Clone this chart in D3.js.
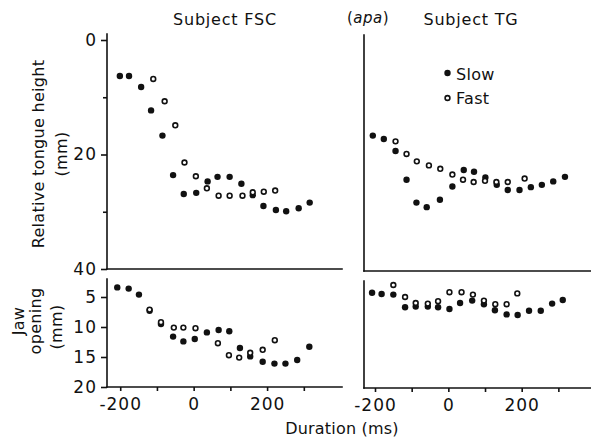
<!DOCTYPE html>
<html>
<head>
<meta charset="utf-8">
<script src="https://cdn.jsdelivr.net/npm/d3@7"></script>
<style>
  html, body { margin: 0; padding: 0; background: #fff; }
  svg { display: block; }
  text { font-family: "DejaVu Sans", sans-serif; fill: #111; }
</style>
</head>
<body>
<svg id="chart" width="591" height="440"></svg>
<script>
// ---- data (duration ms, value mm) ----
const fscTongueSlow = [[-201,6.3],[-176,6.3],[-143,8.2],[-116,12.3],[-85,16.7],[-56,23.6],[-27,26.9],[7,26.7],[38,24.7],[65,23.9],[98,23.9],[130,25.1],[161,27.1],[190,29.0],[224,29.7],[252,29.9],[286,29.4],[316,28.4]];
const fscTongueFast = [[-110,6.8],[-79,10.7],[-50,14.9],[-25,21.4],[6,23.8],[36,25.9],[68,27.2],[98,27.2],[133,27.2],[161,26.6],[191,26.5],[222,26.3]];
const tgTongueSlow = [[-206,16.7],[-176,17.3],[-144,19.4],[-114,24.4],[-87,28.4],[-59,29.2],[-23,27.9],[11,25.6],[42,22.7],[70,23.0],[101,24.0],[132,25.3],[162,26.2],[194,26.2],[225,25.7],[255,25.3],[286,24.7],[318,23.9]];
const tgTongueFast = [[-144,17.7],[-114,19.9],[-86,21.2],[-53,21.9],[-22,22.5],[11,23.5],[40,24.4],[69,24.8],[100,24.6],[131,24.8],[162,24.8],[208,24.2]];
const fscJawSlow = [[-208,3.4],[-177,3.6],[-149,4.6],[-120,7.3],[-89,9.5],[-56,11.6],[-28,12.4],[3,12.0],[36,10.9],[68,10.5],[97,10.7],[126,13.5],[154,14.9],[188,15.8],[220,16.1],[250,16.1],[282,15.5],[315,13.3]];
const fscJawFast = [[-120,7.1],[-89,9.2],[-54,10.1],[-28,10.1],[5,10.2],[66,12.7],[96,14.7],[124,15.1],[154,14.3],[188,13.8],[221,12.2]];
const tgJawSlow = [[-208,4.3],[-182,4.5],[-150,4.6],[-118,6.7],[-89,6.6],[-56,6.6],[-28,6.7],[3,7.0],[32,6.0],[65,5.6],[97,6.2],[127,7.2],[159,7.9],[189,8.0],[220,7.3],[252,7.3],[283,6.1],[312,5.5]];
const tgJawFast = [[-150,3.0],[-118,5.0],[-89,6.0],[-56,6.1],[-28,5.7],[3,4.2],[36,4.2],[67,4.6],[97,5.6],[128,6.2],[159,6.2],[188,4.4]];

const xTicks = [-200,-100,0,100,200,300];
const xTickLabels = [-200,0,200];
const tongueTicks = [0,10,20,30,40];
const tongueTickLabels = [0,20,40];
const jawTicks = [5,10,15,20];
const jawTickLabels = [5,10,15,20];
const panelTitles = ["Subject FSC","Subject TG"];
const legendLabels = ["Slow","Fast"];

// ---- layout ----
const svg = d3.select("#chart");
const xL = d3.scaleLinear().domain([-236, 404]).range([107, 342]);
const xR = d3.scaleLinear().domain([-230, 389]).range([364, 591]);
const yTongue = d3.scaleLinear().domain([0, 40]).range([40, 269]);
const yJaw = d3.scaleLinear().domain([2, 20]).range([279, 387]);

const LW = 1.6;
function line(x1,y1,x2,y2){
  svg.append("line").attr("x1",x1).attr("y1",y1).attr("x2",x2).attr("y2",y2)
    .attr("stroke","#111").attr("stroke-width",LW).attr("stroke-linecap","square");
}

function yAxis(g, scale, ticks, labels, x){
  const ax = d3.axisLeft(scale).tickValues(ticks).tickSize(6).tickPadding(4)
    .tickFormat(d => labels.includes(d) ? String(d) : "");
  const sel = svg.append("g").attr("transform", `translate(${x},0)`).call(ax);
  sel.select(".domain").remove();
  sel.selectAll(".tick line").attr("stroke","#111").attr("stroke-width",LW);
  sel.selectAll(".tick text").attr("font-size",17).attr("letter-spacing",1)
    .style("font-family","DejaVu Sans").attr("fill","#111");
  sel.selectAll(".tick").filter(d => !labels.includes(d)).select("line").attr("x2",-4);
}

function xAxis(scale, y){
  const ax = d3.axisBottom(scale).tickValues(xTicks).tickSize(4).tickPadding(7)
    .tickFormat(d => xTickLabels.includes(d) ? (d < 0 ? "-" + Math.abs(d) : String(d)) : "");
  const sel = svg.append("g").attr("transform", `translate(0,${y})`).call(ax);
  sel.select(".domain").remove();
  sel.selectAll(".tick line").attr("stroke","#111").attr("stroke-width",LW);
  sel.selectAll(".tick text").attr("font-size",17).attr("letter-spacing",1)
    .style("font-family","DejaVu Sans").attr("fill","#111");
}

// ---- frames ----
// left top
line(xL.range()[0], 34, xL.range()[0], yTongue(40));
line(xL.range()[0], yTongue(40), xL.range()[1], yTongue(40));
yAxis(null, yTongue, tongueTicks, tongueTickLabels, xL.range()[0]);
// right top
line(xR.range()[0], 35, xR.range()[0], yTongue(40)+2);
line(xR.range()[0], yTongue(40)+2, xR.range()[1], yTongue(40)+2);
// left bottom
line(xL.range()[0], yJaw(2), xL.range()[0], yJaw(20));
line(xL.range()[0], yJaw(20), xL.range()[1], yJaw(20));
yAxis(null, yJaw, jawTicks, jawTickLabels, xL.range()[0]);
xAxis(xL, yJaw(20));
// right bottom
line(xR.range()[0], yJaw(2)+2, xR.range()[0], yJaw(20)+1);
line(xR.range()[0], yJaw(20)+1, xR.range()[1], yJaw(20)+1);
xAxis(xR, yJaw(20)+1);

// ---- points ----
function plot(data, xs, ys, filled){
  svg.append("g").selectAll("circle").data(data).join("circle")
    .attr("cx", d => xs(d[0])).attr("cy", d => ys(d[1]))
    .attr("r", filled ? 3.2 : 2.4)
    .attr("fill", filled ? "#111" : "#fff")
    .attr("stroke", "#111").attr("stroke-width", filled ? 0 : 1.6);
}
plot(fscTongueSlow, xL, yTongue, true);
plot(fscTongueFast, xL, yTongue, false);
plot(tgTongueSlow, xR, yTongue, true);
plot(tgTongueFast, xR, yTongue, false);
plot(fscJawSlow, xL, yJaw, true);
plot(fscJawFast, xL, yJaw, false);
plot(tgJawSlow, xR, yJaw, true);
plot(tgJawFast, xR, yJaw, false);

// ---- titles ----
svg.append("text").attr("x", 225).attr("y", 25).attr("text-anchor","middle")
  .attr("font-size",16).attr("letter-spacing",0.8).text(panelTitles[0]);
svg.append("text").attr("x", 471).attr("y", 25).attr("text-anchor","middle")
  .attr("font-size",16).attr("letter-spacing",0.8).text(panelTitles[1]);
const apa = svg.append("text").attr("x", 347).attr("y", 23).attr("font-size",15).attr("letter-spacing",0.5);
apa.append("tspan").text("(");
apa.append("tspan").attr("font-style","italic").text("apa");
apa.append("tspan").text(")");

// ---- legend ----
svg.append("circle").attr("cx",447.5).attr("cy",73).attr("r",3.2).attr("fill","#111");
svg.append("text").attr("x",456).attr("y",80).attr("font-size",16).attr("letter-spacing",0.3).text(legendLabels[0]);
svg.append("circle").attr("cx",447.5).attr("cy",98).attr("r",2.4).attr("fill","#fff").attr("stroke","#111").attr("stroke-width",1.6);
svg.append("text").attr("x",456).attr("y",104).attr("font-size",16).attr("letter-spacing",0.3).text(legendLabels[1]);

// ---- axis titles ----
svg.append("text").attr("transform","translate(44,154) rotate(-90)").attr("text-anchor","middle")
  .attr("font-size",16).attr("letter-spacing",0.3).text("Relative tongue height");
svg.append("text").attr("transform","translate(67,154) rotate(-90)").attr("text-anchor","middle")
  .attr("font-size",16).attr("letter-spacing",0.3).text("(mm)");
svg.append("text").attr("transform","translate(24,321) rotate(-90)").attr("text-anchor","middle")
  .attr("font-size",16).attr("letter-spacing",0.3).text("Jaw");
svg.append("text").attr("transform","translate(41,321) rotate(-90)").attr("text-anchor","middle")
  .attr("font-size",16).attr("letter-spacing",0.3).text("opening");
svg.append("text").attr("transform","translate(62,327) rotate(-90)").attr("text-anchor","middle")
  .attr("font-size",16).attr("letter-spacing",0.3).text("(mm)");
svg.append("text").attr("x",342).attr("y",434).attr("text-anchor","middle")
  .attr("font-size",16).attr("letter-spacing",0.2).text("Duration (ms)");
</script>
</body>
</html>
